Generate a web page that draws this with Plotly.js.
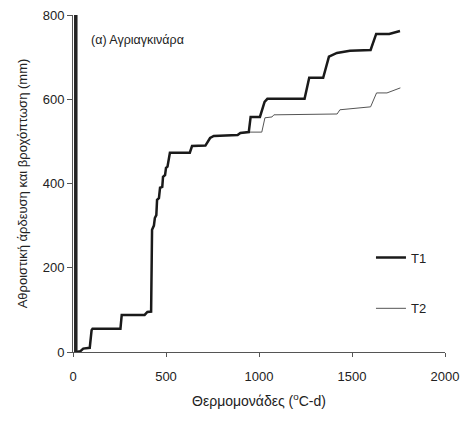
<!DOCTYPE html>
<html>
<head>
<meta charset="utf-8">
<script src="https://cdn.plot.ly/plotly-3.0.1.min.js"></script>
<style>html,body{margin:0;padding:0;background:#fff;}#chart{width:462px;height:424px;}</style>
</head>
<body>
<div id="chart"></div>
<script>
// Cumulative irrigation + rainfall (mm) vs thermal units (°C-d)
const t1X = [18, 40, 55, 90, 100, 105, 255, 262, 385, 400, 420, 425, 435, 440, 448, 452, 462, 468, 480, 484, 495, 500, 508, 521, 628, 640, 712, 737, 757, 885, 900, 945, 955, 1005, 1030, 1045, 1245, 1270, 1345, 1376, 1419, 1489, 1600, 1630, 1700, 1758];
const t1Y = [0, 2, 8, 10, 52, 55, 55, 88, 88, 95, 96, 290, 300, 318, 325, 361, 365, 390, 392, 416, 420, 437, 440, 473, 473, 489, 490, 508, 513, 515, 520, 522, 558, 558, 594, 601, 601, 651, 651, 701, 710, 715, 717, 755, 755, 762];

const t2X = [18, 40, 55, 90, 100, 105, 255, 262, 385, 400, 420, 425, 435, 440, 448, 452, 462, 468, 480, 484, 495, 500, 508, 521, 628, 640, 712, 737, 757, 885, 900, 945, 1015, 1032, 1070, 1080, 1420, 1435, 1600, 1632, 1688, 1760];
const t2Y = [0, 2, 8, 10, 52, 55, 55, 88, 88, 95, 96, 290, 300, 318, 325, 361, 365, 390, 392, 416, 420, 437, 440, 473, 473, 489, 490, 508, 513, 515, 520, 522, 522, 556, 558, 563, 565, 575, 582, 615, 615, 627];

const barX = [15, 15];
const barY = [0, 800];

const seriesNames = ['T1', 'T2'];
const xTicks = [0, 500, 1000, 1500, 2000];
const yTicks = [0, 200, 400, 600, 800];

const font = {family: 'Liberation Sans, Arial, sans-serif', size: 13, color: '#222'};

const traces = [
  {x: barX, y: barY, mode: 'lines', line: {color: '#222', width: 3.5}, showlegend: false, hoverinfo: 'skip'},
  {x: t2X, y: t2Y, mode: 'lines', name: seriesNames[1], legendgroup: 'b', legendrank: 2, line: {color: '#555', width: 1}},
  {x: t1X, y: t1Y, mode: 'lines', name: seriesNames[0], legendgroup: 'a', legendrank: 1, line: {color: '#1a1a1a', width: 2.5}}
];

const layout = {
  width: 462, height: 424,
  margin: {l: 73, r: 17, t: 15, b: 72},
  paper_bgcolor: '#fff', plot_bgcolor: '#fff',
  font: font,
  showlegend: true,
  legend: {x: 0.801, y: 0.325, xanchor: 'left', yanchor: 'top', bgcolor: 'rgba(0,0,0,0)', borderwidth: 0, tracegroupgap: 31, font: {family: font.family, size: 13, color: '#222'}},
  xaxis: {
    range: [0, 2000], tickvals: xTicks, ticktext: xTicks.map(String),
    showgrid: false, zeroline: false, showline: true, linecolor: '#555', linewidth: 1,
    ticks: 'outside', ticklen: 4, tickcolor: '#555', ticklabelstandoff: 8,
    title: {text: 'Θερμομονάδες (<sup>o</sup>C-d)', font: {family: font.family, size: 14, color: '#222'}, standoff: 13}
  },
  xaxis2: {
    range: [0, 2000], overlaying: 'x', anchor: 'y', side: 'bottom', tickvals: xTicks, ticktext: xTicks.map(String),
    showticklabels: false, showgrid: false, zeroline: false, showline: false,
    ticks: 'inside', ticklen: 4, tickcolor: '#555'
  },
  yaxis: {
    range: [0, 800], tickvals: yTicks, ticktext: yTicks.map(String),
    showgrid: false, zeroline: false, showline: true, linecolor: '#555', linewidth: 1,
    ticks: 'outside', ticklen: 5, tickcolor: '#555',
    title: {text: 'Αθροιστική άρδευση και βροχόπτωση (mm)', font: font, standoff: 12}
  },
  annotations: [
    {text: '(α) Αγριαγκινάρα', xref: 'paper', yref: 'paper', x: 0.042, y: 0.925, xanchor: 'left', yanchor: 'middle', showarrow: false, font: {family: font.family, size: 12.5, color: '#222'}}
  ]
};

Plotly.newPlot('chart', traces, layout, {displayModeBar: false, staticPlot: true});
</script>
</body>
</html>
